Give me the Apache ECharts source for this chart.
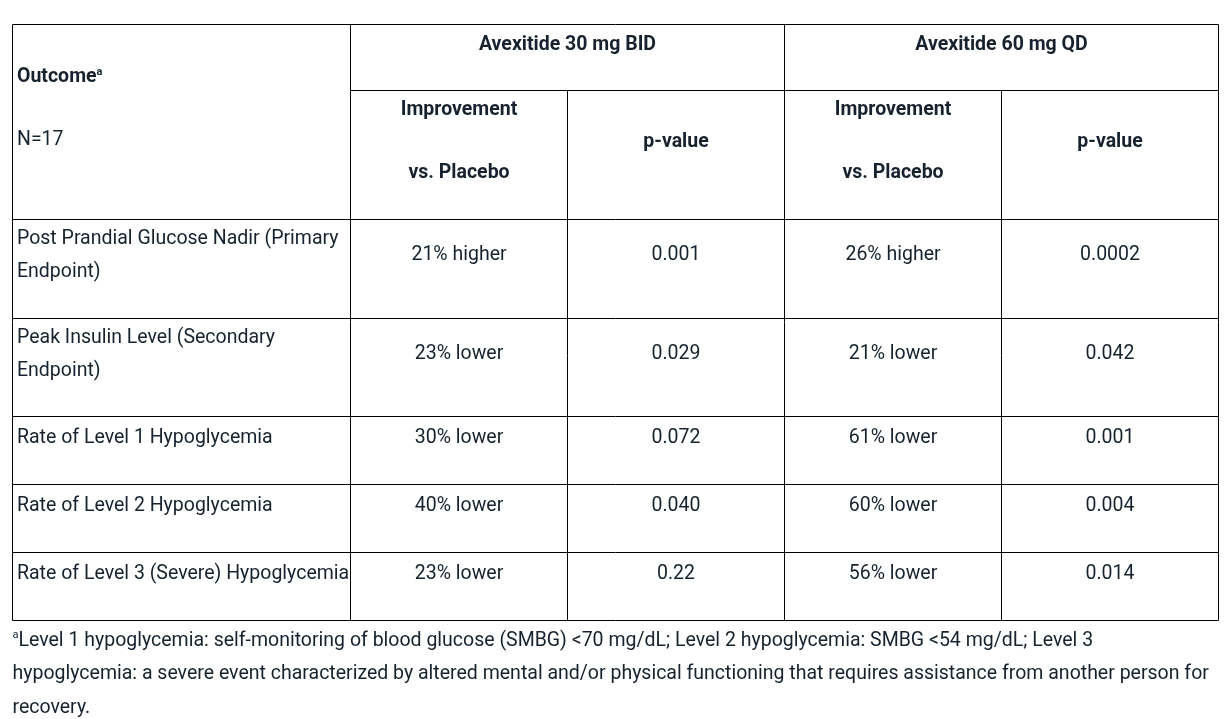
<!DOCTYPE html>
<html>
<head>
<meta charset="utf-8">
<script src="https://cdn.jsdelivr.net/npm/echarts@6/dist/echarts.min.js"></script>
<style>
html,body{margin:0;padding:0;background:#fff;}
#c{width:1232px;height:719px;}
</style>
</head>
<body>
<div id="c"></div>
<script>
// ---- data ----
const groupHeaders = ["Avexitide 30 mg BID", "Avexitide 60 mg QD"];
const subHeaders = [["Improvement", "", "vs. Placebo"], ["p-value"]];
const firstHeader = "Outcome";
const nLabel = "N=17";
const outcomes = [
  "Post Prandial Glucose Nadir (Primary\nEndpoint)",
  "Peak Insulin Level (Secondary\nEndpoint)",
  "Rate of Level 1 Hypoglycemia",
  "Rate of Level 2 Hypoglycemia",
  "Rate of Level 3 (Severe) Hypoglycemia"
];
const improvement30 = ["21% higher", "23% lower", "30% lower", "40% lower", "23% lower"];
const pValue30 = ["0.001", "0.029", "0.072", "0.040", "0.22"];
const improvement60 = ["26% higher", "21% lower", "61% lower", "60% lower", "56% lower"];
const pValue60 = ["0.0002", "0.042", "0.001", "0.004", "0.014"];
const footnoteLines = [
  "Level 1 hypoglycemia: self-monitoring of blood glucose (SMBG) <70 mg/dL; Level 2 hypoglycemia: SMBG <54 mg/dL; Level 3",
  "hypoglycemia: a severe event characterized by altered mental and/or physical functioning that requires assistance from another person for",
  "recovery."
];

// ---- layout ----
const FONT = 'Roboto, "Noto Sans", sans-serif';
const TXT = '#17222e';
const FS = 19.5;
const DY = 2.5;
const colX = [12.5, 350.5, 567.5, 784.5, 1001.5, 1218.5];
const headTop = 24.5, headMid = 90.5;
const rowY = [219.5, 318.5, 416.5, 484.5, 552.5, 620.5];
const LH = 33.5;

const g = [];
function line(x1, y1, x2, y2) {
  g.push({type: 'line', shape: {x1, y1, x2, y2}, style: {stroke: '#000', lineWidth: 1}, silent: true});
}
function text(str, x, y, align, bold, extra) {
  g.push({type: 'text', x, y: y + DY, silent: true, style: Object.assign({
    text: str, fill: TXT, font: (bold ? 'bold ' : '') + FS + 'px ' + FONT,
    align: align, verticalAlign: 'middle', lineHeight: LH
  }, extra || {})});
}

// borders
line(colX[0], headTop, colX[5], headTop);
line(colX[1], headMid, colX[5], headMid);
rowY.forEach(y => line(colX[0], y, colX[5], y));
line(colX[0], headTop, colX[0], rowY[5]);
line(colX[1], headTop, colX[1], rowY[5]);
line(colX[3], headTop, colX[3], rowY[5]);
line(colX[5], headTop, colX[5], rowY[5]);
line(colX[2], headMid, colX[2], rowY[5]);
line(colX[4], headMid, colX[4], rowY[5]);

// header
g.push({type: 'text', x: 17, y: 75 + DY, silent: true, style: {
  text: '{b|' + firstHeader + '}{s|a}', fill: TXT, verticalAlign: 'middle',
  rich: {
    b: {font: 'bold ' + FS + 'px ' + FONT, fill: TXT},
    s: {font: 'bold 11px ' + FONT, fill: TXT, padding: [0, 0, 11, 0]}
  }
}});
text(nLabel, 17, 138, 'left', false);
groupHeaders.forEach((h, i) => {
  const x0 = colX[1 + 2 * i], x1 = colX[3 + 2 * i];
  text(h, (x0 + x1) / 2, 43, 'center', true);
  text(subHeaders[0].join('\n'), (x0 + colX[2 + 2 * i]) / 2, 139.5, 'center', true, {lineHeight: 31.5});
  text(subHeaders[1].join('\n'), (colX[2 + 2 * i] + x1) / 2, 139.5, 'center', true);
});

// body
const valueCols = [improvement30, pValue30, improvement60, pValue60];
outcomes.forEach((o, r) => {
  const top = rowY[r];
  const n = o.split('\n').length;
  const first = n > 1 ? top + 16.8 : top + 19;
  text(o, 17, first + (n - 1) * LH / 2, 'left', false);
  valueCols.forEach((arr, c) => {
    text(arr[r], (colX[c + 1] + colX[c + 2]) / 2, first + (n - 1) * LH / 2, 'center', false);
  });
});

// footnote
footnoteLines.forEach((l, i) => {
  if (i === 0) {
    g.push({type: 'text', x: 12.5, y: 638.5 + DY, silent: true, style: {
      text: '{s|a}{t|' + l + '}', verticalAlign: 'middle',
      rich: {
        s: {font: '11px ' + FONT, fill: TXT, padding: [0, 0, 11, 0]},
        t: {font: FS + 'px ' + FONT, fill: TXT}
      }
    }});
  } else {
    text(l, 12.5, 638.5 + i * 33.5, 'left', false);
  }
});

const chart = echarts.init(document.getElementById('c'), null, {renderer: 'canvas'});
chart.setOption({
  backgroundColor: '#fff',
  animation: false,
  graphic: {elements: g}
});
</script>
</body>
</html>
